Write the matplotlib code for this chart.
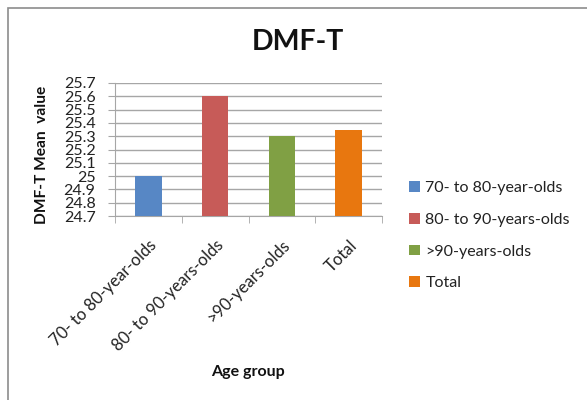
import matplotlib
matplotlib.use("Agg")
import matplotlib.pyplot as plt
from matplotlib.patches import Rectangle, Patch

categories = ["70- to 80-year-olds", "80- to 90-years-olds", ">90-years-olds", "Total"]
tick_labels = ["70- to 80-year-olds", "80- to 90-years-olds", ">90-years-olds", "Total"]
mean_values = [25.0, 25.6, 25.3, 25.35]
bar_colors = ["#5787C5", "#C75B58", "#80A044", "#E8770F"]
y_ticks = [24.7, 24.8, 24.9, 25.0, 25.1, 25.2, 25.3, 25.4, 25.5, 25.6, 25.7]
y_tick_labels = ["24.7", "24.8", "24.9", "25", "25.1", "25.2", "25.3", "25.4", "25.5", "25.6", "25.7"]

plt.rcParams["font.family"] = ["Lato", "DejaVu Sans"]

fig = plt.figure(figsize=(5.87, 4.00), dpi=100)
fig.patch.set_facecolor("white")

# outer chart frame
fig.add_artist(Rectangle((8 / 587, -0.01), 1.0, 1 - 8 / 400 + 0.01,
                         transform=fig.transFigure, fill=False,
                         edgecolor="#8c8c8c", linewidth=1.2))

ax = fig.add_axes([115 / 587, 1 - 216 / 400, (382 - 115) / 587, (216 - 83) / 400])
x = list(range(len(categories)))
ax.bar(x, [v - 24.7 for v in mean_values], bottom=24.7, width=0.4,
       color=bar_colors, zorder=3)

ax.set_xlim(-0.5, len(categories) - 0.5)
ax.set_ylim(24.7, 25.7)
ax.set_yticks(y_ticks)
ax.set_yticklabels(y_tick_labels, fontsize=11.5, color="#222222")
ax.yaxis.grid(True, color="#a6a6a6", linewidth=1.0, zorder=0)
ax.tick_params(axis="y", length=5, color="#a6a6a6", pad=9)

ax.set_xticks([i - 0.5 for i in range(len(categories) + 1)], minor=True)
ax.set_xticks(x)
ax.set_xticklabels(tick_labels, rotation=45, ha="right", va="top",
                   rotation_mode="anchor", fontsize=12, color="#222222")
ax.tick_params(axis="x", which="major", length=0, pad=15)
ax.tick_params(axis="x", which="minor", length=5, color="#a6a6a6")

for side in ["top", "right"]:
    ax.spines[side].set_visible(False)
for side in ["left", "bottom"]:
    ax.spines[side].set_color("#a6a6a6")

fig.text(298 / 587, 1 - 42 / 400, "DMF-T", fontsize=20.5, fontweight="bold",
         ha="center", va="center", color="#111111")
fig.text(42 / 587, 1 - 155 / 400, "DMF-T Mean  value", fontsize=11.2,
         fontweight="bold", rotation=90, ha="center", va="center", color="#111111")
fig.text(248 / 587, 1 - 372 / 400, "Age group", fontsize=11.5,
         fontweight="bold", ha="center", va="center", color="#111111")

handles = [Patch(facecolor=c, edgecolor="none") for c in bar_colors]
leg = fig.legend(handles, categories, loc="upper left",
                 bbox_to_anchor=(403 / 587, 1 - 175 / 400),
                 frameon=False, fontsize=11.5, handlelength=0.65, handleheight=0.65,
                 handletextpad=0.35, labelspacing=1.1, borderaxespad=0)
for t in leg.get_texts():
    t.set_color("#222222")

fig.savefig("out.png", dpi=100, facecolor="white")
